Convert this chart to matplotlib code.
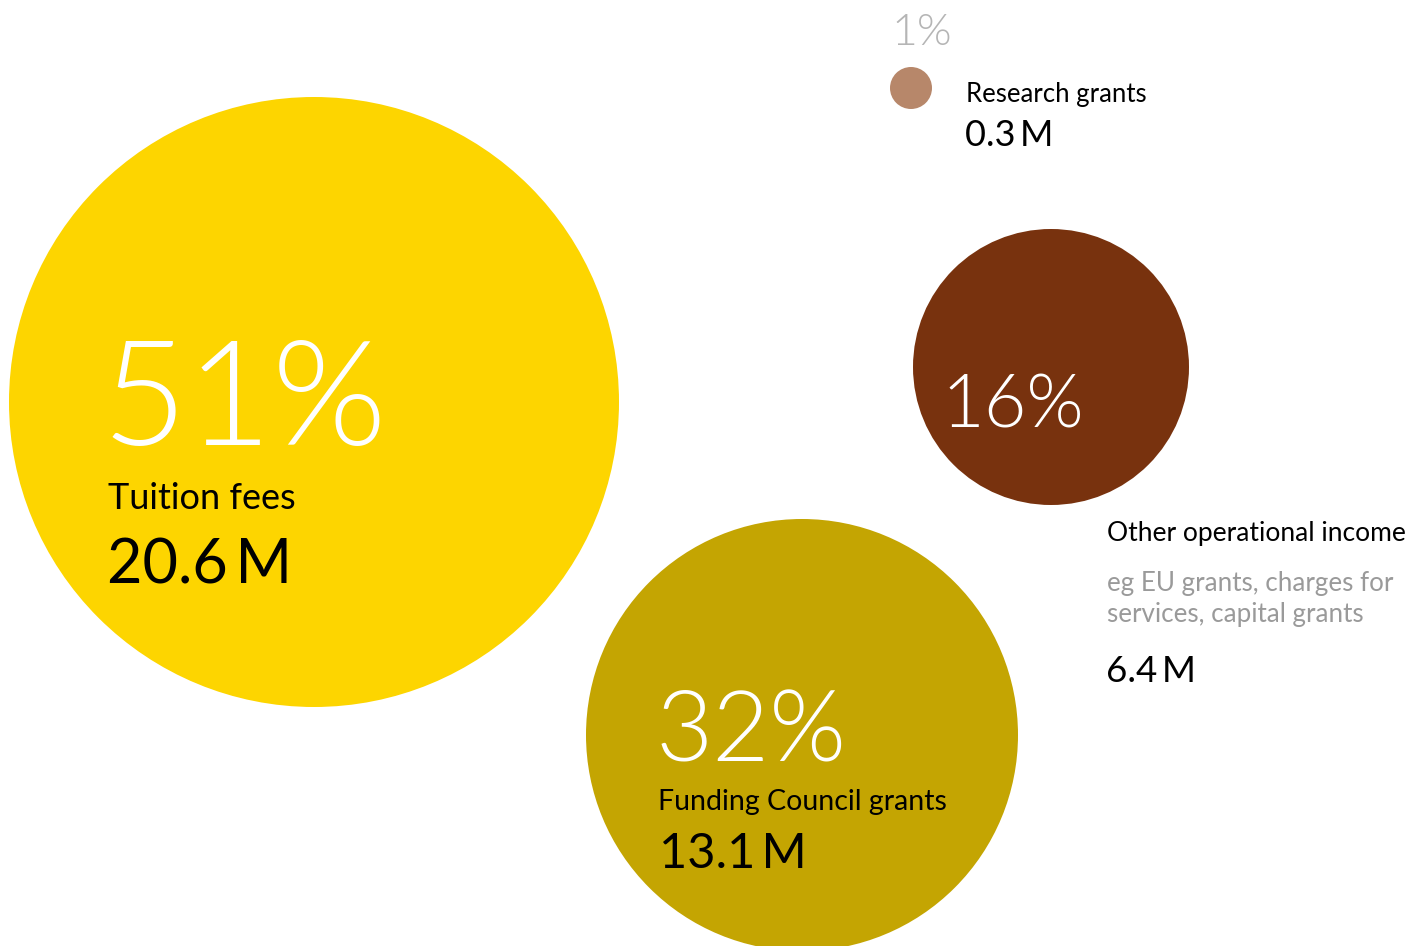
import matplotlib
matplotlib.use("Agg")
import matplotlib.pyplot as plt
from matplotlib.patches import Circle

# Income sources
categories = ["Tuition fees", "Funding Council grants", "Other operational income", "Research grants"]
amounts_m = [20.6, 13.1, 6.4, 0.3]
shares_pct = [51, 32, 16, 1]
note_other = ["eg EU grants, charges for", "services, capital grants"]

# Layout (pixel space of the canvas)
centers = [(314, 402), (802, 735), (1051, 367), (911, 88)]
radii = [305, 216, 138, 21]
colors = ["#FDD500", "#C4A502", "#78320E", "#B7876A"]

FONT = "Lato"

fig = plt.figure(figsize=(14.24, 9.46), dpi=100)
ax = fig.add_axes([0, 0, 1, 1])
ax.set_xlim(0, 1424)
ax.set_ylim(946, 0)
ax.set_aspect("equal")
ax.axis("off")

for (cx, cy), r, c in zip(centers, radii, colors):
    ax.add_patch(Circle((cx, cy), r, facecolor=c, edgecolor="none"))

def txt(x, y, s, size, color="black", weight=400):
    ax.text(x, y, s, fontsize=size, color=color, fontfamily=FONT,
            fontweight=weight, va="baseline", ha="left")

def money(v):
    return f"{v:.1f}\u2009M"

# Tuition fees
txt(102, 445, f"{shares_pct[0]}%", 106, "white", 300)
txt(108, 509, categories[0], 26)
txt(107, 583, money(amounts_m[0]), 44)

# Funding Council grants
txt(656, 762, f"{shares_pct[1]}%", 71, "white", 300)
txt(658, 810, categories[1], 20.5)
txt(659, 868, money(amounts_m[1]), 35)

# Other operational income
txt(941, 427, f"{shares_pct[2]}%", 53, "white", 300)
txt(1107, 541, categories[2], 19)
for i, line in enumerate(note_other):
    txt(1107, 591 + i * 31, line, 18.7, "#9A9A9A")
txt(1106, 682, money(amounts_m[2]), 26.5)

# Research grants
txt(891, 45, f"{shares_pct[3]}%", 32, "#B5B5B5", 300)
txt(966, 102, categories[3], 18.5)
txt(965, 146, money(amounts_m[3]), 26)

fig.savefig("out.png", dpi=100, facecolor="white")
